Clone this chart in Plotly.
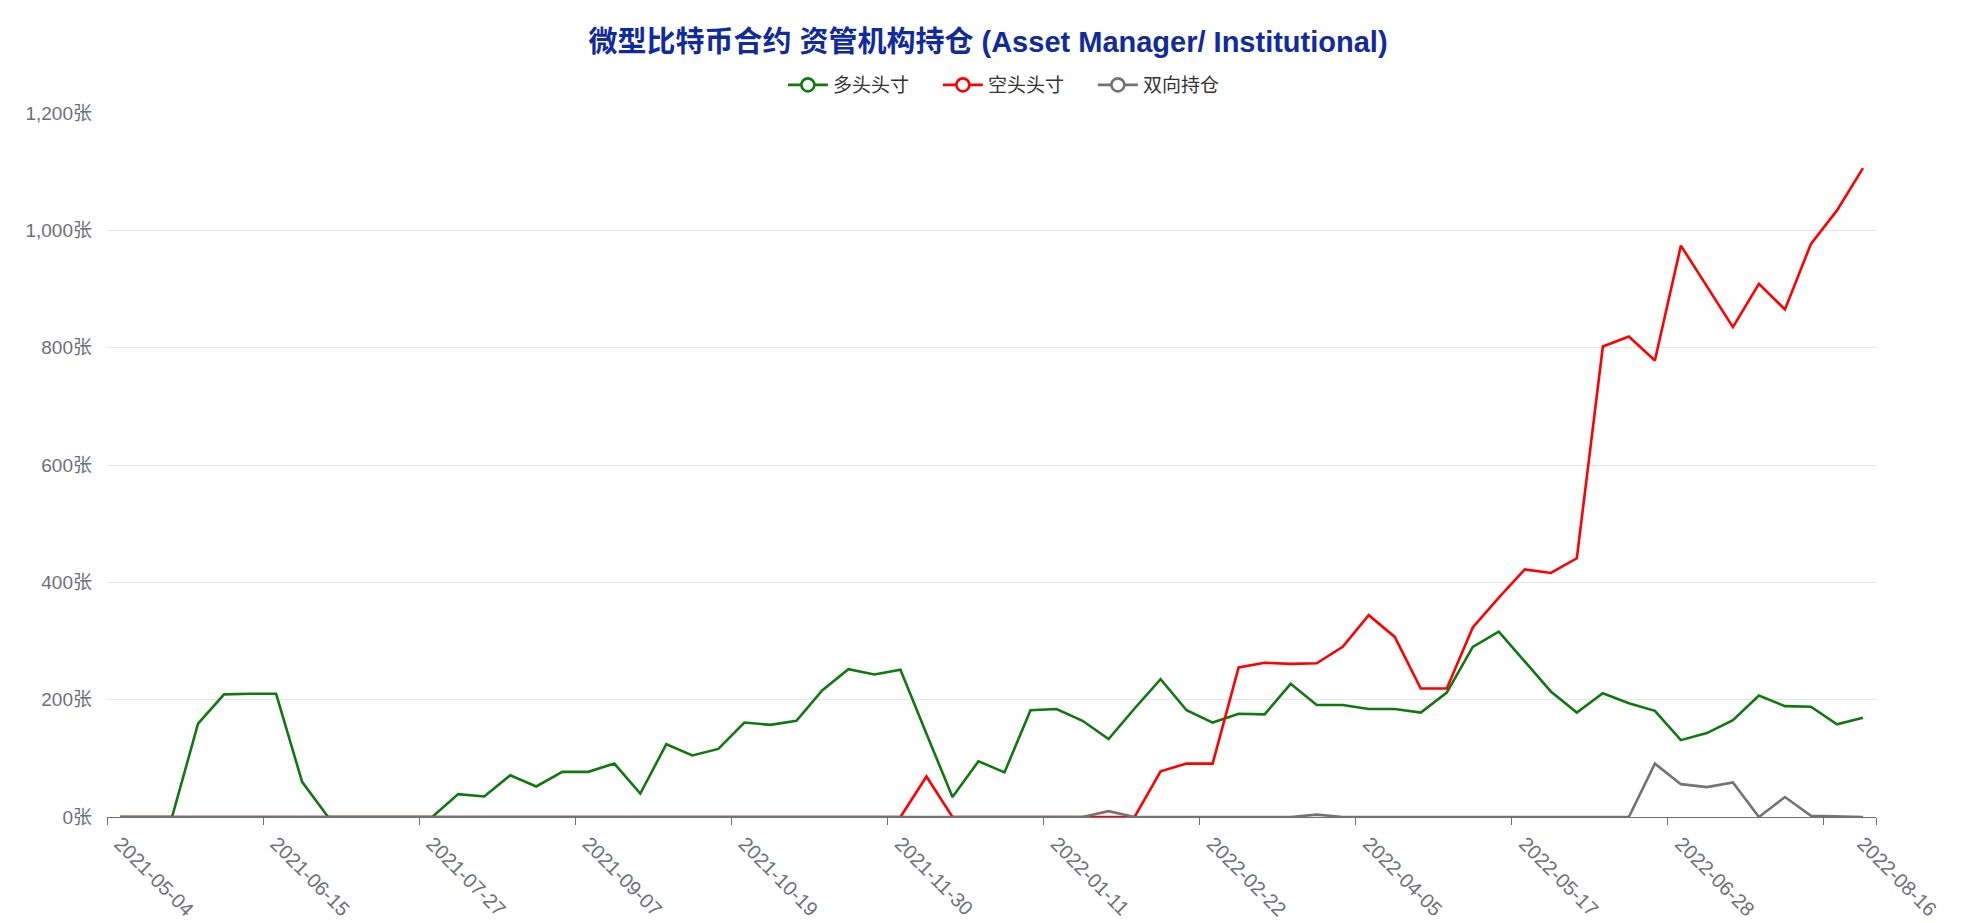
import pandas as pd
import plotly.graph_objects as go

# weekly report dates (every Tuesday)
dates = pd.date_range("2021-05-04", periods=68, freq="7D")

long_pos = [0, 0, 0, 159, 209, 210, 210, 60, 0, 0, 0, 0, 0, 39, 35, 71, 52, 77, 77, 91,
            40, 124, 105, 116, 161, 157, 164, 216, 252, 243, 251, 142, 34, 95, 76, 182, 184, 164, 133, 185,
            235, 182, 161, 176, 175, 227, 191, 191, 184, 184, 178, 212, 290, 316, 265, 214, 178, 211, 194, 181,
            131, 143, 165, 207, 189, 188, 158, 169]
short_pos = [0] * 31 + [69] + [0] * 8 + [78, 91, 91, 255, 263, 261, 262, 290, 344, 307, 219, 219, 323, 374,
             422, 416, 441, 802, 819, 778, 974, 904, 835, 909, 865, 977, 1034, 1106]
spread_pos = [0] * 38 + [10] + [0] * 7 + [4] + [0] * 12 + [91, 56, 51, 59, 0, 34, 2, 1, 0]

series_names = ["多头头寸", "空头头寸", "双向持仓"]
series_colors = ["#117711", "#ff0000", "#737373"]
label_idx = [0, 6, 12, 18, 24, 30, 36, 42, 48, 54, 60, 67]
y_ticks = [0, 200, 400, 600, 800, 1000, 1200]

FONT = "Liberation Sans, Noto Sans CJK SC, sans-serif"
half = pd.Timedelta(hours=84)

fig = go.Figure()
for name, vals, col in zip(series_names, [long_pos, short_pos, spread_pos], series_colors):
    fig.add_trace(go.Scatter(x=dates, y=vals, mode="lines", name=name, showlegend=False,
                             line=dict(color=col, width=2.6)))
for name, col in zip(series_names, series_colors):
    fig.add_trace(go.Scatter(x=[None], y=[None], mode="lines+markers", name=name,
                             line=dict(color=col, width=2.6),
                             marker=dict(symbol="circle", size=13, color="white",
                                         line=dict(color=col, width=2.6))))

tick_bounds = [dates[i] - half for i in range(0, 67, 6)] + [dates[-1] + half]

fig.update_layout(
    width=1976, height=923,
    margin=dict(l=107, r=100, t=113, b=106, autoexpand=False),
    paper_bgcolor="white", plot_bgcolor="white",
    font=dict(family=FONT, color="#6E7079", size=18),
    title=dict(text="<b>微型比特币合约 资管机构持仓 (Asset Manager/ Institutional)</b>",
               x=0.5, xanchor="center", y=0.955, yanchor="middle",
               font=dict(size=29, color="#112a9c", family=FONT)),
    legend=dict(orientation="h", x=0.5135, xanchor="center", y=1.0 + 28 / 704, yanchor="middle",
                font=dict(size=19, color="#333333"), itemwidth=40, entrywidth=100,
                bgcolor="rgba(0,0,0,0)"),
    showlegend=True,
    xaxis=dict(
        type="date", automargin=False,
        range=[dates[0] - half, dates[-1] + half],
        tickvals=[dates[i] for i in label_idx],
        ticktext=[dates[i].strftime("%Y-%m-%d") for i in label_idx],
        tickangle=45, ticks="", ticklabelstandoff=6,
        tickfont=dict(size=20, color="#6E7079"),
        minor=dict(tickvals=tick_bounds, ticks="outside", ticklen=7, tickcolor="#6E7079",
                   tickwidth=1.3, showgrid=False),
        showline=True, linecolor="#6E7079", linewidth=1.3,
        showgrid=False, zeroline=False,
    ),
    yaxis=dict(
        range=[0, 1200], tickvals=y_ticks, automargin=False,
        ticktext=[f"{v:,}张" for v in y_ticks],
        showgrid=True, gridcolor="#E0E6F1", gridwidth=1.3,
        zeroline=False, showline=False, ticks="", ticklabelstandoff=14,
        tickfont=dict(size=19, color="#6E7079"),
    ),
)

fig.write_html("out.html")
